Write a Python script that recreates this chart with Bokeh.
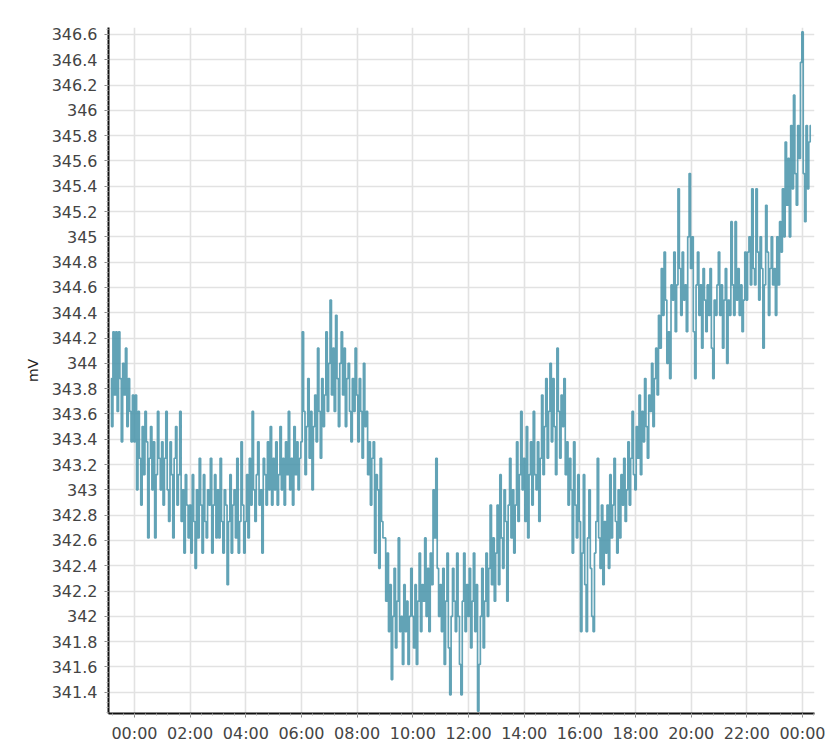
import pandas as pd
from bokeh.plotting import figure
from bokeh.models import (Range1d, FixedTicker, SingleIntervalTicker,
                          DatetimeTickFormatter, CustomJSTickFormatter)
from bokeh.embed import file_html
from bokeh.resources import INLINE

# ---- data -------------------------------------------------------------
start_time = "2024-01-01 23:09"
sample_step = "3min"

pre_midnight = [343.88, 343.5, 344.25, 343.75, 344.25, 343.62, 344.25, 343.88, 343.38,
                344.0, 343.75, 344.12, 343.5, 343.88, 343.62, 343.38, 343.75]
h00 = [343.38, 343.75, 343.0, 343.62, 343.25, 342.88, 343.5, 343.12, 343.62, 343.38,
       342.62, 343.25, 343.5, 343.0, 343.38, 342.62, 343.12, 343.62, 343.25, 343.0]
h01 = [343.38, 342.88, 343.25, 343.62, 343.0, 342.75, 343.38, 343.12, 342.62, 343.25,
       343.5, 342.88, 343.12, 343.62, 342.75, 343.0, 342.5, 343.12, 342.88, 342.62]
h02 = [342.88, 342.5, 343.12, 342.75, 342.38, 343.0, 342.62, 343.25, 342.88, 342.5,
       343.12, 342.75, 342.62, 343.0, 342.88, 343.25, 342.5, 342.88, 343.12, 342.62]
h03 = [343.0, 342.62, 343.25, 342.75, 342.5, 343.0, 342.88, 342.25, 342.75, 343.12,
       342.5, 342.88, 343.0, 342.62, 343.25, 342.5, 342.75, 343.38, 342.88, 342.5]
h04 = [342.75, 343.12, 342.62, 343.25, 342.88, 343.62, 343.0, 342.75, 343.12, 343.38,
       342.88, 343.0, 342.5, 343.25, 343.12, 342.88, 343.38, 343.0, 343.5, 342.88]
h05 = [343.25, 343.0, 343.38, 342.88, 343.12, 343.5, 343.0, 343.25, 342.88, 343.38,
       343.12, 343.62, 343.0, 343.25, 342.88, 343.5, 343.12, 343.38, 343.0, 343.25]
h06 = [343.38, 344.25, 343.62, 343.12, 343.5, 343.88, 343.25, 343.62, 343.0, 343.5,
       343.75, 343.38, 344.12, 343.62, 343.25, 343.88, 343.5, 343.75, 344.25, 343.62]
h07 = [344.0, 344.5, 343.75, 344.12, 343.62, 344.38, 343.88, 343.5, 344.0, 344.25,
       343.75, 344.12, 343.5, 343.88, 344.0, 343.62, 343.38, 343.88, 343.62, 344.12]
h08 = [343.75, 343.38, 343.88, 343.62, 343.25, 344.0, 343.5, 343.62, 343.12, 343.38,
       342.88, 343.25, 343.38, 342.5, 343.12, 343.0, 342.38, 343.25, 342.75, 342.62]
h09 = [342.62, 342.12, 342.5, 341.88, 342.25, 341.5, 342.0, 342.38, 341.75, 342.12,
       342.62, 341.88, 342.0, 341.62, 342.25, 341.88, 342.12, 341.62, 342.0, 342.38]
h10 = [342.0, 341.75, 342.25, 341.62, 342.12, 342.5, 341.88, 342.25, 342.12, 342.62,
       342.0, 342.38, 341.88, 342.5, 342.25, 343.0, 342.62, 343.25, 342.38, 342.0]
h11 = [342.25, 341.88, 342.38, 341.62, 342.12, 342.5, 341.75, 341.38, 342.0, 342.38,
       342.12, 341.88, 342.5, 342.0, 341.62, 341.38, 342.12, 342.5, 341.88, 342.25]
h12 = [342.0, 342.38, 341.75, 342.12, 342.5, 341.88, 342.25, 341.25, 341.62, 342.0,
       342.38, 341.75, 342.12, 342.5, 342.0, 342.38, 342.88, 342.25, 342.62, 342.12]
h13 = [342.5, 342.88, 342.25, 343.12, 342.62, 342.38, 343.0, 342.75, 342.12, 342.88,
       343.25, 342.62, 343.0, 342.5, 342.88, 343.38, 342.75, 343.12, 343.62, 343.0]
h14 = [343.25, 342.75, 343.5, 342.62, 343.12, 343.38, 342.88, 343.62, 343.12, 343.0,
       343.38, 342.75, 343.25, 343.75, 343.12, 343.5, 343.88, 343.25, 343.62, 344.0]
h15 = [343.38, 343.88, 343.5, 343.12, 344.12, 343.62, 343.25, 343.75, 343.5, 343.88,
       343.12, 343.38, 342.88, 343.25, 343.0, 342.5, 343.38, 342.88, 342.62, 343.12]
h16 = [342.75, 341.88, 342.5, 343.12, 342.25, 341.88, 342.62, 343.0, 342.38, 342.0,
       341.88, 342.5, 342.75, 343.25, 342.62, 342.38, 342.88, 342.25, 342.75, 342.5]
h17 = [342.88, 342.38, 343.12, 342.62, 342.88, 343.25, 342.75, 342.5, 343.0, 342.62,
       343.12, 342.88, 343.25, 342.75, 343.0, 343.38, 342.88, 343.25, 343.62, 343.12]
h18 = [343.0, 343.5, 343.25, 343.75, 343.12, 343.62, 343.38, 343.88, 343.5, 343.25,
       343.75, 343.62, 344.0, 343.5, 343.88, 344.12, 343.75, 344.38, 344.12, 344.75]
h19 = [344.38, 344.88, 344.5, 344.0, 344.25, 343.88, 344.62, 344.5, 344.88, 344.25,
       344.62, 345.38, 344.75, 344.38, 344.88, 344.5, 344.62, 344.25, 345.0, 345.5]
h20 = [344.75, 345.0, 344.25, 343.88, 344.62, 344.88, 344.38, 344.62, 344.12, 344.75,
       344.5, 344.25, 344.62, 344.38, 344.75, 344.12, 343.88, 344.5, 344.38, 344.62]
h21 = [344.88, 344.38, 344.62, 344.12, 344.5, 344.75, 344.0, 344.5, 344.38, 345.12,
       344.62, 344.38, 345.12, 344.5, 344.75, 344.38, 344.62, 344.25, 344.5, 344.88]
h22 = [344.5, 344.88, 345.0, 344.62, 345.38, 344.75, 344.62, 345.38, 344.88, 344.5,
       345.0, 344.75, 344.12, 344.62, 345.25, 344.88, 344.38, 344.75, 345.0, 344.62]
h23 = [344.75, 344.38, 345.0, 344.62, 345.12, 344.88, 345.38, 345.0, 345.75, 345.25,
       345.62, 345.0, 345.88, 345.38, 346.12, 345.5, 345.25, 345.88, 345.62, 346.38]
after_midnight = [346.62, 345.5, 345.12, 345.88, 345.38, 345.75, 345.88]

y_ticks_interval = 0.2
x_tick_hours = list(range(0, 25, 2))

values = (pre_midnight + h00 + h01 + h02 + h03 + h04 + h05 + h06 + h07 + h08 + h09 +
          h10 + h11 + h12 + h13 + h14 + h15 + h16 + h17 + h18 + h19 + h20 + h21 +
          h22 + h23 + after_midnight)
times = pd.date_range(start=start_time, periods=len(values), freq=sample_step)

# ---- figure -----------------------------------------------------------
day0 = pd.Timestamp("2024-01-02 00:00")
ms = lambda ts: ts.value // 10**6
hour_ms = 3600 * 1000

p = figure(width=825, height=745, x_axis_type="datetime",
           output_backend="svg", toolbar_location=None,
           x_range=Range1d(ms(day0) - 0.934 * hour_ms, ms(day0) + 24.43 * hour_ms),
           y_range=Range1d(341.232, 346.655),
           min_border_left=108, min_border_right=11,
           min_border_top=27, min_border_bottom=32)
p.outline_line_color = None
p.background_fill_color = "white"
p.border_fill_color = "white"

p.step(times, values, mode="center", line_color="#4793a9", line_width=1.7,
       line_alpha=0.85)

# axes
major = [ms(day0) + h * hour_ms for h in x_tick_hours]
minor = [ms(day0) + int(m * 24 * 60 * 1000) for m in range(-2, 62)]
p.xaxis.ticker = FixedTicker(ticks=major, minor_ticks=minor)
fmt = "%H:%M"
p.xaxis.formatter = DatetimeTickFormatter(milliseconds=fmt, seconds=fmt, minsec=fmt,
                                          minutes=fmt, hourmin=fmt, hours=fmt,
                                          days=fmt, months=fmt, years=fmt)
p.yaxis.ticker = SingleIntervalTicker(interval=y_ticks_interval, num_minor_ticks=5)
p.yaxis.formatter = CustomJSTickFormatter(code="return String(Number(tick.toFixed(1)));")
p.yaxis.axis_label = "mV"

for ax in (p.xaxis, p.yaxis):
    ax.axis_line_color = "#111111"
    ax.axis_line_width = 2
    ax.major_tick_line_color = "#888888"
    ax.minor_tick_line_color = "#aaaaaa"
    ax.major_tick_in = 0
    ax.minor_tick_in = 0
    ax.major_tick_out = 4
    ax.minor_tick_out = 2
    ax.major_label_text_font = "DejaVu Sans"
    ax.major_label_text_font_size = "16px"
    ax.major_label_text_color = "#444444"

p.xaxis.major_label_standoff = 6
p.yaxis.major_label_standoff = 7
p.yaxis.axis_label_text_font = "DejaVu Sans"
p.yaxis.axis_label_text_font_size = "14px"
p.yaxis.axis_label_text_font_style = "normal"
p.yaxis.axis_label_text_color = "#222222"
p.yaxis.axis_label_standoff = 8

p.xgrid.grid_line_color = "#e2e2e2"
p.ygrid.grid_line_color = "#e2e2e2"
p.xgrid.grid_line_width = 1.6
p.ygrid.grid_line_width = 1.6

open("out.html", "w").write(file_html(p, INLINE))
